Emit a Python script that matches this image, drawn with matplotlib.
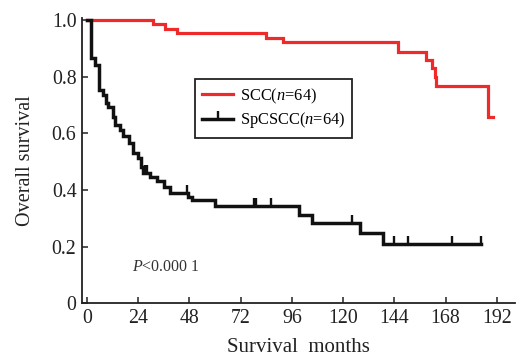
import numpy as np
import matplotlib
matplotlib.use("Agg")
import matplotlib.pyplot as plt
from matplotlib.lines import Line2D

plt.rcParams.update({
    "font.family": ["Liberation Serif", "DejaVu Serif"],
    "mathtext.fontset": "custom",
    "mathtext.rm": "Liberation Serif",
    "mathtext.it": "Liberation Serif:italic",
    "font.size": 14.3,
})

# SCC (red) Kaplan-Meier steps: time (months) and survival after each step
scc_times = [0, 31.0, 36.5, 42.2, 83.7, 91.8, 145.9, 158.8, 161.6, 162.8, 163.5, 188.0, 190.4]
scc_surv = [1.0, 0.984, 0.969, 0.953, 0.937, 0.922, 0.888, 0.859, 0.829, 0.800, 0.768, 0.656, 0.656]

# SpCSCC (black) Kaplan-Meier steps
sp_times = [0, 1.9, 3.7, 5.6, 7.5, 9.0, 9.8, 12.0, 13.0, 15.5, 17.0, 19.5, 21.5, 24.0,
            25.5, 26.3, 29.5, 33.0, 36.0, 38.8, 47.5, 49.0, 59.9, 99.2, 105.6, 128.0,
            138.6, 184.8]
sp_surv = [1.0, 0.866, 0.840, 0.753, 0.735, 0.707, 0.694, 0.659, 0.629, 0.610, 0.590,
           0.565, 0.530, 0.513, 0.482, 0.460, 0.445, 0.430, 0.410, 0.390, 0.375, 0.365,
           0.342, 0.312, 0.282, 0.247, 0.208, 0.208]
# censored observations (months) for SpCSCC
sp_censor = [27.0, 28.0, 47.0, 78.0, 79.0, 86.0, 124.0, 143.7, 150.5, 170.8, 184.8]

xticks = [0, 24, 48, 72, 96, 120, 144, 168, 192]
yticks = [0, 0.2, 0.4, 0.6, 0.8, 1.0]
ytick_labels = ["0", "0.2", "0.4", "0.6", "0.8", "1.0"]

RED = "#ee2a2a"
BLACK = "#111111"

fig = plt.figure(figsize=(5.16, 3.57), dpi=100)
ax = fig.add_axes([0.159, 0.150, 0.839, 0.800])

ax.step(scc_times, scc_surv, where="post", color=RED, lw=2.3, solid_joinstyle="miter")
ax.step(sp_times, sp_surv, where="post", color=BLACK, lw=2.5, solid_joinstyle="miter")

# censor ticks sit on the step curve
idx = np.searchsorted(sp_times, sp_censor, side="right") - 1
cens_y = np.array(sp_surv)[idx]
ax.plot(sp_censor, cens_y, ls="none", marker=2, ms=5.5, mew=1.7, color=BLACK)

ax.set_xlim(-2.34, 200.5)
ax.set_ylim(0, 1.007)
ax.set_xticks(xticks)
ax.set_yticks(yticks)
ax.set_yticklabels(ytick_labels)
for s in ("top", "right"):
    ax.spines[s].set_visible(False)
for s in ("left", "bottom"):
    ax.spines[s].set_linewidth(1.3)
    ax.spines[s].set_color("#222222")
ax.tick_params(direction="in", length=4, width=1.1, pad=4, colors="#222222",
               labelcolor="#222222")

ax.set_xlabel("Survival  months", fontsize=15, labelpad=7, color="#222222")
ax.set_ylabel("Overall survival", fontsize=14.5, labelpad=12, color="#222222")

ax.text(20.9, 0.13, r"$P$<0.000 1", fontsize=11.5, va="center", ha="left", color="#333333")

handles = [
    Line2D([], [], color=RED, lw=2.3),
    Line2D([], [], color=BLACK, lw=2.5, marker=2, ms=5.5, mew=1.7),
]
leg = ax.legend(handles, [r"SCC($n$=64)", r"SpCSCC($n$=64)"],
                loc="upper left", bbox_to_anchor=(0.26, 0.786), borderaxespad=0,
                fontsize=11.8, handlelength=1.9, handletextpad=0.4, labelspacing=0.3,
                borderpad=0.45, fancybox=False, framealpha=1, numpoints=1)
leg.get_frame().set_edgecolor("#222222")
leg.get_frame().set_linewidth(1.3)

fig.savefig("out.png", dpi=100)
